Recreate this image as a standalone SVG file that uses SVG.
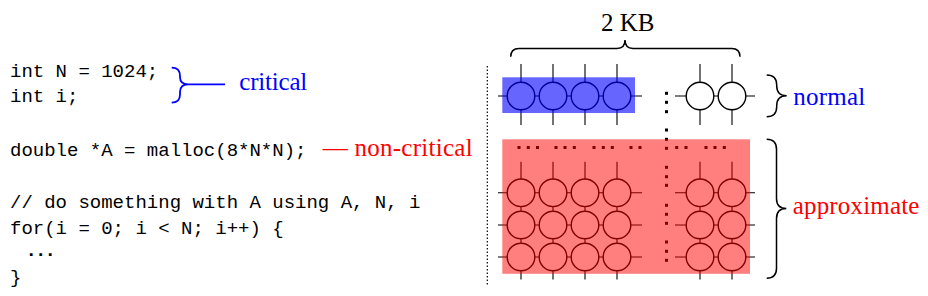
<svg xmlns="http://www.w3.org/2000/svg" xmlns:xlink="http://www.w3.org/1999/xlink" width="928" height="296" viewBox="0 0 928 296">
<style>
.code{font-family:"Liberation Mono","DejaVu Sans Mono",monospace;font-size:19px;fill:#000}
.lbl{font-family:"Liberation Serif","DejaVu Serif",serif;font-size:25px}
.blue{fill:#0000ff}
.red{fill:#ff0000}
.wire{stroke:#000;stroke-width:1.1;fill:none}
.cell{stroke:#000;stroke-width:1.4;fill:#fff}
.brace{stroke:#000;stroke-width:1.5;fill:none}
.dot{fill:#000}
</style>
<defs>
<circle id="c" r="13.8" class="cell"/>
<rect id="d" x="-1.5" y="-1.5" width="3" height="3" class="dot"/>
</defs>

<g id="code">
<text class="code" x="10" y="77.3">int N = 1024;</text>
<text class="code" x="10" y="101.7">int i;</text>
<text class="code" x="10" y="156">double *A = malloc(8*N*N);</text>
<text class="code" x="10" y="208.3">// do something with A using A, N, i</text>
<text class="code" x="10" y="234">for(i = 0; i &lt; N; i++) {</text>
<text class="code" x="25.5" y="256" font-weight="bold" letter-spacing="-1.9">...</text>
<text class="code" x="10" y="283">}</text>
</g>

<line id="separator" x1="487.3" y1="66" x2="487.3" y2="286" stroke="#000" stroke-width="1.2" stroke-dasharray="1.5 2"/>

<g id="memory">
<g id="wires">
<path class="wire" d="M498 96H642M675 96H755M498 192.8H642M675 192.8H755M498 225H642M675 225H755M498 257H642M675 257H755"/>
<path class="wire" d="M521 64V125M553 64V125M585 64V125M617 64V125M700 64V125M732 64V125"/>
<path class="wire" d="M521 161.7V279.5M553 161.7V279.5M585 161.7V279.5M617 161.7V279.5M700 161.7V279.5M732 161.7V279.5"/>
</g>
<g id="cells-normal">
<use xlink:href="#c" x="521" y="96"/><use xlink:href="#c" x="553" y="96"/><use xlink:href="#c" x="585" y="96"/><use xlink:href="#c" x="617" y="96"/>
<use xlink:href="#c" x="700" y="96"/><use xlink:href="#c" x="732" y="96"/>
</g>
<g id="cells-approx">
<use xlink:href="#c" x="521" y="192.8"/><use xlink:href="#c" x="553" y="192.8"/><use xlink:href="#c" x="585" y="192.8"/><use xlink:href="#c" x="617" y="192.8"/><use xlink:href="#c" x="700" y="192.8"/><use xlink:href="#c" x="732" y="192.8"/>
<use xlink:href="#c" x="521" y="225"/><use xlink:href="#c" x="553" y="225"/><use xlink:href="#c" x="585" y="225"/><use xlink:href="#c" x="617" y="225"/><use xlink:href="#c" x="700" y="225"/><use xlink:href="#c" x="732" y="225"/>
<use xlink:href="#c" x="521" y="257"/><use xlink:href="#c" x="553" y="257"/><use xlink:href="#c" x="585" y="257"/><use xlink:href="#c" x="617" y="257"/><use xlink:href="#c" x="700" y="257"/><use xlink:href="#c" x="732" y="257"/>
</g>
<g id="dots">
<use xlink:href="#d" x="666.5" y="93.3"/><use xlink:href="#d" x="666.5" y="102.3"/><use xlink:href="#d" x="666.5" y="111.7"/>
<use xlink:href="#d" x="666.5" y="130"/><use xlink:href="#d" x="666.5" y="139.3"/><use xlink:href="#d" x="666.5" y="148.3"/>
<use xlink:href="#d" x="666.5" y="167.3"/><use xlink:href="#d" x="666.5" y="176.7"/><use xlink:href="#d" x="666.5" y="185.3"/>
<use xlink:href="#d" x="666.5" y="205.3"/><use xlink:href="#d" x="666.5" y="214.3"/><use xlink:href="#d" x="666.5" y="223.3"/>
<use xlink:href="#d" x="666.5" y="242"/><use xlink:href="#d" x="666.5" y="251.3"/><use xlink:href="#d" x="666.5" y="260.3"/>
<use xlink:href="#d" x="519" y="147.5"/><use xlink:href="#d" x="528.3" y="147.5"/><use xlink:href="#d" x="537.5" y="147.5"/>
<use xlink:href="#d" x="556" y="147.5"/><use xlink:href="#d" x="565" y="147.5"/><use xlink:href="#d" x="574.3" y="147.5"/>
<use xlink:href="#d" x="594" y="147.5"/><use xlink:href="#d" x="603.3" y="147.5"/><use xlink:href="#d" x="612.3" y="147.5"/>
<use xlink:href="#d" x="631" y="147.5"/><use xlink:href="#d" x="640" y="147.5"/>
<use xlink:href="#d" x="676.7" y="147.5"/><use xlink:href="#d" x="686" y="147.5"/>
<use xlink:href="#d" x="706" y="147.5"/><use xlink:href="#d" x="715" y="147.5"/><use xlink:href="#d" x="724.3" y="147.5"/>
</g>
<rect id="normal-region" x="502.3" y="77.3" width="132.7" height="35.7" fill="#0000ff" fill-opacity="0.6"/>
<rect id="approx-region" x="502.3" y="139.3" width="247.7" height="134.5" fill="#ff0000" fill-opacity="0.5"/>
</g>

<g id="connectors">
<path class="brace" d="M510.7 56.7Q510.7 48.4 519 48.4L617 48.4Q625 48.4 625 40Q625 48.4 633 48.4L731.7 48.4Q740 48.4 740 56.7"/>
<path class="brace" d="M766.7 75Q776.7 75 776.7 85L776.7 85.8Q776.7 95.8 786.7 95.8Q776.7 95.8 776.7 105.8L776.7 106.7Q776.7 116.7 766.7 116.7"/>
<path class="brace" d="M766.7 139.3Q776.5 139.3 776.5 149.3L776.5 198.5Q776.5 208.5 786.3 208.5Q776.5 208.5 776.5 218.5L776.5 268.3Q776.5 278.3 766.7 278.3"/>
<path d="M171.7 67.7Q180 67.7 180 76L180 77Q180 84.3 188 84.3L225 84.3M188 84.3Q180 84.3 180 92L180 94.5Q180 102.7 171.7 102.7" stroke="#0000ff" stroke-width="1.8" fill="none"/>
</g>

<g id="labels">
<text class="lbl" x="627.8" y="31" font-size="22" text-anchor="middle" fill="#000">2 KB</text>
<text class="lbl blue" x="793.3" y="105" textLength="72">normal</text>
<text class="lbl red" x="792.7" y="214" textLength="126.7">approximate</text>
<text class="lbl blue" x="239.3" y="90" textLength="68">critical</text>
<text class="lbl red" x="322.7" y="156" textLength="150">— non-critical</text>
</g>
</svg>
